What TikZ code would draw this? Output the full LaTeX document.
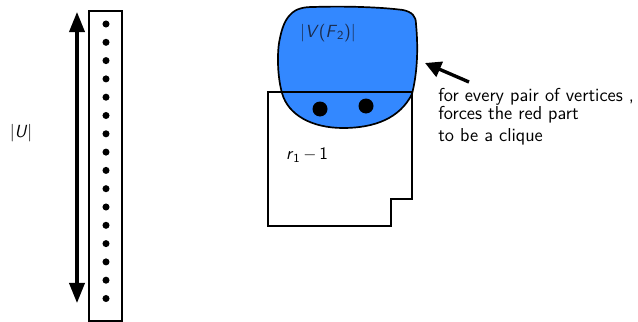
\documentclass[tikz,border=0pt]{standalone}
\usepackage{tikz}
\usepackage{xcolor}
\usetikzlibrary{arrows.meta,positioning,calc}
\definecolor{blobBlue}{HTML}{3388FF}
\definecolor{blobText}{HTML}{1A2A4A}
\tikzset{
    % outlines
    outline/.style={draw=black, line width=1.2pt},
    vdot/.style={circle, fill=black, inner sep=0pt, minimum size=5pt},
    bigdot/.style={circle, fill=black, inner sep=0pt, minimum size=15*0.025cm},
    % arrows
    bigArrow/.style={line width=2.2pt, {Triangle[length=5mm,width=3.8mm]}-{Triangle[length=5mm,width=3.8mm]}},
    pointArrow/.style={line width=2.4pt, -{Triangle[length=4mm,width=4mm]}},
    lbl/.style={font=\sffamily\fontsize{12.5}{12}\selectfont, inner sep=0pt}
}
\begin{document}
\begin{tikzpicture}[x=0.025cm, y=-0.025cm]
\useasboundingbox (0,0) rectangle (638,322);

% the column U
\draw[outline] (89,11) rectangle (122,321);
\foreach \i in {0,...,15}
    \node[vdot] (u\i) at (106,{24+\i*18.3}) {};
\coordinate (utop) at (77,12);
\coordinate (ubot) at (77,303);
\draw[bigArrow] (utop) -- (ubot);
\node[lbl] (ulabel) at (21,133) {|\textit{U}|};

% the blue part
\fill[blobBlue] (290,15) .. controls (296,8) and (305,7) .. (313,7)
    .. controls (345,6) and (380,7) .. (403,10) .. controls (412,12) and (416,16) .. (416,24)
    .. controls (418,45) and (418,70) .. (412,94)
    .. controls (400,118) and (375,128) .. (343,128)
    .. controls (312,128) and (288,115) .. (282,93)
    .. controls (277,75) and (277,50) .. (280,38)
    .. controls (282,28) and (285,20) .. (290,15) -- cycle;
\draw[outline] (290,15) .. controls (296,8) and (305,7) .. (313,7)
    .. controls (345,6) and (380,7) .. (403,10) .. controls (412,12) and (416,16) .. (416,24)
    .. controls (418,45) and (418,70) .. (412,94)
    .. controls (400,118) and (375,128) .. (343,128)
    .. controls (312,128) and (288,115) .. (282,93)
    .. controls (277,75) and (277,50) .. (280,38)
    .. controls (282,28) and (285,20) .. (290,15) -- cycle;
\node[lbl, text=blobText] (vlabel) at (328,33) {|\textit{V}(\textit{F}\textsubscript{2})|};
\node[bigdot] (d1) at (320,109) {};
\node[bigdot] (d2) at (366,106) {};

% the box r_1 - 1
\draw[outline] (268,92) -- (412,92) -- (412,199) -- (391,199) -- (391,226) -- (268,226) -- cycle;
\node[lbl] (rlabel) at (307,155) {\textit{r}\textsubscript{1}\,$-$\,1};

% the remark
\node[lbl, font=\sffamily\fontsize{13.3}{11.8}\selectfont, anchor=north west, align=left] (note) at (438,88)
    {for every pair of vertices ,\\forces the red part\\[2.5pt]to be a clique};
\coordinate (tail) at (469,82);
\coordinate (tip) at (425,63);
\draw[pointArrow] (tail) -- (tip);
\end{tikzpicture}
\end{document}
